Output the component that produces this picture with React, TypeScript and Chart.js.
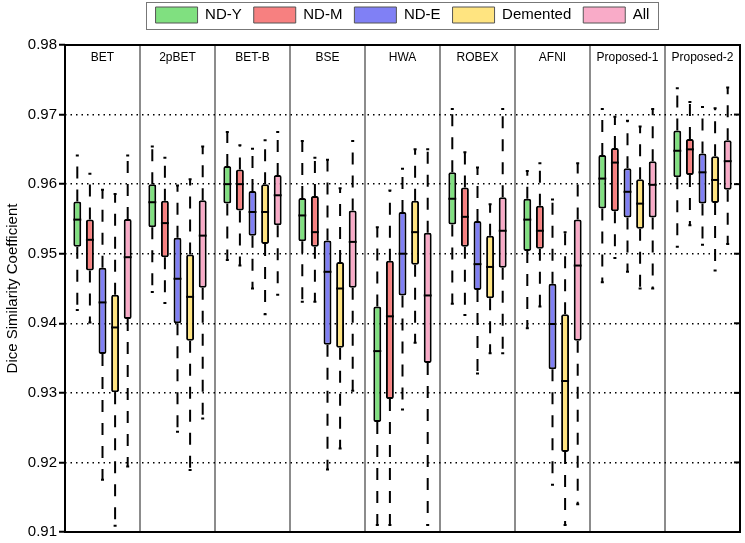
import React, { useEffect, useRef } from "react";
import { Chart, registerables } from "chart.js";

Chart.register(...registerables);

// Methods (x categories)
const methods = ["BET", "2pBET", "BET-B", "BSE", "HWA", "ROBEX", "AFNI", "Proposed-1", "Proposed-2"];
const seriesNames = ["ND-Y", "ND-M", "ND-E", "Demented", "All"];
const yTicks = [0.91, 0.92, 0.93, 0.94, 0.95, 0.96, 0.97, 0.98];

// Each row: [min, q1, median, q3, max] per method
const ndY = [
  [0.9419, 0.951, 0.9549, 0.9575, 0.9641],
  [0.9445, 0.9538, 0.9574, 0.96, 0.9654],
  [0.9491, 0.9572, 0.96, 0.9626, 0.9675],
  [0.9431, 0.9518, 0.9555, 0.958, 0.9662],
  [0.911, 0.9258, 0.936, 0.9424, 0.9538],
  [0.9428, 0.9542, 0.9579, 0.9617, 0.9708],
  [0.9393, 0.9504, 0.9549, 0.9579, 0.9619],
  [0.9459, 0.9565, 0.9608, 0.9642, 0.9708],
  [0.951, 0.961, 0.9648, 0.9677, 0.9738],
];
const ndM = [
  [0.9401, 0.9476, 0.952, 0.9549, 0.9615],
  [0.9429, 0.9495, 0.9544, 0.9576, 0.9638],
  [0.9483, 0.9562, 0.96, 0.9621, 0.9656],
  [0.9431, 0.951, 0.9531, 0.9583, 0.9638],
  [0.911, 0.9291, 0.941, 0.949, 0.9591],
  [0.9412, 0.951, 0.9553, 0.9595, 0.9646],
  [0.9424, 0.9507, 0.9533, 0.9569, 0.963],
  [0.9494, 0.9561, 0.9631, 0.9652, 0.9697],
  [0.9541, 0.9613, 0.965, 0.9665, 0.9718],
];
const ndE = [
  [0.9175, 0.9356, 0.943, 0.948, 0.9592],
  [0.9244, 0.94, 0.9464, 0.9523, 0.9598],
  [0.945, 0.9526, 0.956, 0.959, 0.9651],
  [0.919, 0.9369, 0.9474, 0.9519, 0.9635],
  [0.9276, 0.944, 0.95, 0.956, 0.9622],
  [0.9328, 0.9448, 0.9485, 0.9547, 0.9624],
  [0.9168, 0.9334, 0.9399, 0.9457, 0.9578],
  [0.9474, 0.9552, 0.9589, 0.9623, 0.9691],
  [0.9513, 0.9572, 0.9617, 0.9644, 0.9711],
];
const demented = [
  [0.9109, 0.9301, 0.9394, 0.9441, 0.9586],
  [0.9189, 0.9375, 0.9438, 0.9499, 0.9607],
  [0.9413, 0.9514, 0.956, 0.96, 0.9663],
  [0.922, 0.9365, 0.945, 0.9488, 0.9594],
  [0.9372, 0.9484, 0.9531, 0.9576, 0.965],
  [0.9357, 0.9436, 0.9481, 0.9526, 0.9571],
  [0.911, 0.9215, 0.9317, 0.9413, 0.9531],
  [0.945, 0.9536, 0.9572, 0.9607, 0.9683],
  [0.9476, 0.9573, 0.9606, 0.964, 0.9709],
];
const all = [
  [0.9194, 0.9406, 0.9495, 0.955, 0.9641],
  [0.9263, 0.9451, 0.9526, 0.9577, 0.9654],
  [0.9441, 0.9541, 0.9584, 0.9613, 0.9675],
  [0.9303, 0.9451, 0.9517, 0.9562, 0.9662],
  [0.911, 0.9343, 0.944, 0.953, 0.965],
  [0.9357, 0.948, 0.9533, 0.9581, 0.9708],
  [0.914, 0.9375, 0.9483, 0.9549, 0.963],
  [0.945, 0.9552, 0.9599, 0.9633, 0.9708],
  [0.9514, 0.9592, 0.9633, 0.9663, 0.9739],
];

const seriesStats = [ndY, ndM, ndE, demented, all];
const seriesColors = ["#80e080", "#f78080", "#8080f5", "#ffe480", "#f9abc8"];

const FONT = "'Liberation Sans', Arial, sans-serif";

const boxPlugin = {
  id: "boxExtras",
  afterLayout(chart: any) {
    const L = chart.legend;
    const ca = chart.chartArea;
    if (!L || !ca) return;
    const shift = (ca.left + ca.right) / 2 - (L.left + L.right) / 2;
    L.left += shift;
    L.right += shift;
    L.top -= 12;
    L.bottom -= 12;
  },
  beforeDatasetsDraw(chart: any) {
    const ctx = chart.ctx;
    const ca = chart.chartArea;
    const y = chart.scales.y;
    ctx.save();
    ctx.beginPath();
    ctx.rect(ca.left, ca.top, ca.right - ca.left, ca.bottom - ca.top);
    ctx.clip();
    ctx.strokeStyle = "#000";
    ctx.lineWidth = 2;
    seriesStats.forEach((stats, di) => {
      const meta = chart.getDatasetMeta(di);
      stats.forEach((s, i) => {
        const el = meta.data[i];
        if (!el) return;
        const x = el.x;
        ctx.setLineDash([12, 11]);
        ctx.beginPath();
        ctx.moveTo(x, y.getPixelForValue(s[3]));
        ctx.lineTo(x, y.getPixelForValue(s[4]));
        ctx.stroke();
        ctx.beginPath();
        ctx.moveTo(x, y.getPixelForValue(s[1]));
        ctx.lineTo(x, y.getPixelForValue(s[0]));
        ctx.stroke();
        ctx.setLineDash([]);
        ctx.beginPath();
        ctx.moveTo(x - 1.5, y.getPixelForValue(s[4]));
        ctx.lineTo(x + 1.5, y.getPixelForValue(s[4]));
        ctx.moveTo(x - 1.5, y.getPixelForValue(s[0]));
        ctx.lineTo(x + 1.5, y.getPixelForValue(s[0]));
        ctx.stroke();
      });
    });
    ctx.restore();
  },
  afterDatasetsDraw(chart: any) {
    const ctx = chart.ctx;
    const y = chart.scales.y;
    ctx.save();
    ctx.strokeStyle = "#000";
    ctx.lineWidth = 2;
    seriesStats.forEach((stats, di) => {
      const meta = chart.getDatasetMeta(di);
      stats.forEach((s, i) => {
        const el = meta.data[i];
        if (!el) return;
        const py = y.getPixelForValue(s[2]);
        ctx.beginPath();
        ctx.moveTo(el.x - el.width / 2, py);
        ctx.lineTo(el.x + el.width / 2, py);
        ctx.stroke();
      });
    });
    ctx.restore();
  },
  afterDraw(chart: any) {
    const ctx = chart.ctx;
    const ca = chart.chartArea;
    const x = chart.scales.x;
    const y = chart.scales.y;
    ctx.save();
    // right-side inward ticks
    ctx.strokeStyle = "#000";
    ctx.lineWidth = 2;
    yTicks.forEach((t) => {
      const py = y.getPixelForValue(t);
      ctx.beginPath();
      ctx.moveTo(ca.right - 6, py);
      ctx.lineTo(ca.right, py);
      ctx.stroke();
    });
    // frame
    ctx.strokeRect(ca.left, ca.top, ca.right - ca.left, ca.bottom - ca.top);
    // group labels
    ctx.fillStyle = "#000";
    ctx.font = `12px ${FONT}`;
    ctx.textAlign = "center";
    ctx.textBaseline = "middle";
    methods.forEach((m, i) => {
      ctx.fillText(m, x.getPixelForValue(i), ca.top + 13);
    });
    // legend border
    const L = chart.legend;
    if (L && L.legendHitBoxes && L.legendHitBoxes.length) {
      const hb = L.legendHitBoxes;
      let minL = Infinity, maxR = -Infinity, minT = Infinity, maxB = -Infinity;
      hb.forEach((h: any) => {
        minL = Math.min(minL, h.left);
        maxR = Math.max(maxR, h.left + h.width);
        minT = Math.min(minT, h.top);
        maxB = Math.max(maxB, h.top + h.height);
      });
      ctx.strokeStyle = "#777";
      ctx.lineWidth = 1;
      ctx.strokeRect(Math.round(minL - 10) + 0.5, Math.round(minT - 5) + 0.5, Math.round(maxR - minL + 18), Math.round(maxB - minT + 11));
    }
    ctx.restore();
  },
};

export default function App() {
  const canvasRef = useRef<HTMLCanvasElement | null>(null);

  useEffect(() => {
    if (!canvasRef.current) return;
    Chart.defaults.font.family = FONT;
    Chart.defaults.color = "#000";
    const chart = new Chart(canvasRef.current, {
      type: "bar",
      data: {
        labels: methods,
        datasets: seriesNames.map((name, di) => ({
          label: name,
          data: seriesStats[di].map((s) => [s[1], s[3]]) as any,
          backgroundColor: seriesColors[di],
          borderColor: "#000",
          borderWidth: 2,
          borderRadius: 2,
          borderSkipped: false,
          barPercentage: 0.63,
          categoryPercentage: 0.84,
        })),
      },
      options: {
        responsive: false,
        animation: false,
        layout: { padding: { left: 0, right: 5, top: 7, bottom: 8 } },
        plugins: {
          tooltip: { enabled: false },
          legend: {
            display: true,
            position: "top",
            labels: {
              boxWidth: 42,
              boxHeight: 16,
              padding: 12,
              color: "#000",
              font: { size: 15, family: FONT },
              generateLabels: () =>
                seriesNames.map((name, di) => ({
                  text: name,
                  fillStyle: seriesColors[di],
                  strokeStyle: "#555",
                  lineWidth: 1,
                  hidden: false,
                  datasetIndex: di,
                })),
            },
          },
        },
        scales: {
          x: {
            ticks: { display: false },
            grid: { display: true, offset: true, color: "#8c8c8c", lineWidth: 2, drawTicks: false },
            border: { display: false },
          },
          y: {
            min: 0.91,
            max: 0.98,
            afterFit: (scale: any) => {
              scale.width = 65;
            },
            afterBuildTicks: (scale: any) => {
              scale.ticks = yTicks.map((v) => ({ value: v }));
            },
            ticks: {
              font: { size: 15, family: FONT },
              color: "#000",
              padding: 2,
              callback: (v: any) => Number(v).toFixed(2),
            },
            grid: {
              color: "#000",
              lineWidth: 1.5,
              tickLength: 6,
              tickColor: "#000",
              tickWidth: 2,
              tickBorderDash: [],
            },
            border: { display: false, dash: [1.5, 4] },
            title: {
              display: true,
              text: "Dice Similarity Coefficient",
              font: { size: 15, family: FONT },
              color: "#000",
            },
          },
        },
      },
      plugins: [boxPlugin],
    });
    return () => chart.destroy();
  }, []);

  return (
    <div style={{ position: "fixed", left: 0, top: 0, width: 745, height: 543, background: "#fff" }}>
      <canvas ref={canvasRef} width={745} height={543} />
    </div>
  );
}
